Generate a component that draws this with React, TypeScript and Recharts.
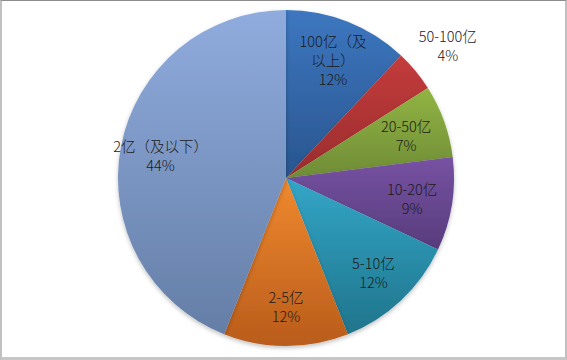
import { PieChart, Pie, Cell } from 'recharts'

const categories = ['100亿（及以上）', '50-100亿', '20-50亿', '10-20亿', '5-10亿', '2-5亿', '2亿（及以下）']
const shares = [12, 4, 7, 9, 12, 12, 44]

const SLICE_COLORS: [string, string][] = [
  ['#3d77c0', '#29558f'], // blue
  ['#c43c3c', '#9a2c2d'], // red
  ['#91b443', '#6f8c36'], // green
  ['#7752a3', '#573c7c'], // purple
  ['#33a6c8', '#20748b'], // teal
  ['#f0892f', '#b95c1b'], // orange
  ['#90acde', '#647ea6'], // light blue
]

const data = categories.map((name, i) => ({ name, value: shares[i] }))

const RADIAN = Math.PI / 180

function splitName(name: string): string[] {
  // long names get broken like the original
  if (name.length > 8) return [name.slice(0, 6), name.slice(6)]
  return [name]
}

function renderLabel(props: any) {
  const { cx, cy, midAngle, outerRadius, percent, name } = props
  const outside = percent < 0.05
  const r = outside ? outerRadius * 1.25 : outerRadius * 0.76
  const x = cx + r * Math.cos(-midAngle * RADIAN)
  const y = cy + r * Math.sin(-midAngle * RADIAN)
  const lines = [...splitName(name), `${Math.round(percent * 100)}%`]
  const lh = 19
  const top = y - ((lines.length - 1) * lh) / 2
  return (
    <text
      x={x}
      y={top}
      textAnchor="middle"
      dominantBaseline="central"
      fill="#1a1a1a"
      fontSize={14.5}
      fontWeight={300}
      fontFamily="'Noto Sans CJK SC', sans-serif"
    >
      {lines.map((l, i) => (
        <tspan key={i} x={x} dy={i === 0 ? 0 : lh}>
          {l}
        </tspan>
      ))}
    </text>
  )
}

export default function App() {
  return (
    <div
      style={{
        position: 'absolute',
        left: 0,
        top: 0,
        width: 567,
        height: 360,
        boxSizing: 'border-box',
        background: '#fff',
        borderTop: '1px solid #8c8c8c',
        borderLeft: '2px solid #c0c0c0',
        borderRight: '2px solid #c0c0c0',
        borderBottom: '3px solid #c6c6c6',
      }}
    >
      <div style={{ position: 'absolute', left: -2, top: -1 }}>
        <PieChart width={567} height={360} margin={{ top: 0, right: 0, bottom: 0, left: 0 }}>
          <defs>
            {SLICE_COLORS.map(([a, b], i) => (
              <linearGradient key={i} id={`g${i}`} x1="0" y1="0" x2="0" y2="1">
                <stop offset="0%" stopColor={a} />
                <stop offset="100%" stopColor={b} />
              </linearGradient>
            ))}
            <filter id="shadow" x="-10%" y="-10%" width="120%" height="120%">
              <feDropShadow dx="0" dy="2" stdDeviation="2" floodColor="#000" floodOpacity="0.25" />
            </filter>
          </defs>
          <Pie
            data={data}
            dataKey="value"
            nameKey="name"
            cx={286}
            cy={178}
            outerRadius={168}
            startAngle={90}
            endAngle={-270}
            stroke="none"
            label={renderLabel}
            labelLine={false}
            isAnimationActive={false}
            style={{ filter: 'url(#shadow)' }}
          >
            {data.map((d, i) => (
              <Cell key={d.name} fill={`url(#g${i})`} />
            ))}
          </Pie>
        </PieChart>
      </div>
    </div>
  )
}
